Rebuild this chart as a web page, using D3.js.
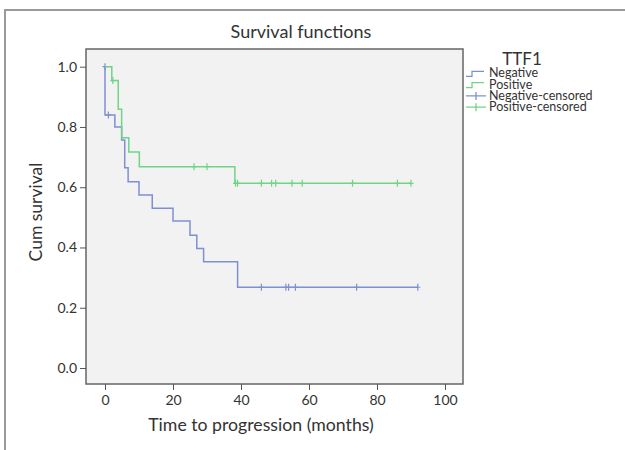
<!DOCTYPE html>
<html>
<head>
<meta charset="utf-8">
<title>Survival functions</title>
<script src="https://cdn.jsdelivr.net/npm/d3@7"></script>
<style>
  body { margin: 0; background: #fff; }
  text { font-family: Lato, "Open Sans", sans-serif; fill: #333; }
</style>
</head>
<body>
<script>
// ---- data ----
var negEventTimes = [0, 2.9, 4.9, 5.8, 6.8, 10, 13.9, 20, 25, 27, 29, 39];
var negSurv       = [0.84, 0.80, 0.757, 0.665, 0.618, 0.574, 0.530, 0.488, 0.441, 0.397, 0.353, 0.268];
var negCensored   = [0, 1, 46, 53.2, 54, 56, 74, 92];

var posEventTimes = [2, 3.9, 4.9, 7, 10.1, 38.2];
var posSurv       = [0.954, 0.859, 0.764, 0.717, 0.668, 0.613];
var posCensored   = [2.3, 26.2, 30, 38.4, 39, 46, 49, 50.2, 55, 58, 72.8, 86, 90];

var xTicks = [0, 20, 40, 60, 80, 100];
var yTicks = [0, 0.2, 0.4, 0.6, 0.8, 1.0];
var legendLabels = ["Negative", "Positive", "Negative-censored", "Positive-censored"];

var colors = {neg: "#7d91d2", pos: "#6ed585"};

var width = 625, height = 450;
var plot = {left: 86, top: 49, right: 463, bottom: 384};

var svg = d3.select("body").append("svg")
    .attr("width", width).attr("height", height);

// outer frame (only top & left visible)
svg.append("path")
    .attr("d", "M5,450 L5,10 L625,10")
    .attr("fill", "none").attr("stroke", "#9a9a9a").attr("stroke-width", 2);

// scales
var x = d3.scaleLinear().domain([0, 100]).range([105, 445]);
var y = d3.scaleLinear().domain([0, 1]).range([368, 66.7]);

// plot background
svg.append("rect")
    .attr("x", plot.left).attr("y", plot.top)
    .attr("width", plot.right - plot.left).attr("height", plot.bottom - plot.top)
    .attr("fill", "#f2f2f2").attr("stroke", "#666").attr("stroke-width", 1.5);

// axes
var yAxis = d3.axisLeft(y).tickValues(yTicks).tickFormat(d3.format(".1f")).tickSize(6).tickPadding(3);
var gy = svg.append("g").attr("transform", "translate(" + plot.left + ",0)").call(yAxis);
gy.select(".domain").remove();
var xAxis = d3.axisBottom(x).tickValues(xTicks).tickSize(6).tickPadding(5);
var gx = svg.append("g").attr("transform", "translate(0," + plot.bottom + ")").call(xAxis);
gx.select(".domain").remove();
svg.selectAll(".tick line").attr("stroke", "#555");
svg.selectAll(".tick text").style("font-size", "14px").attr("fill", "#333");

// helpers
function stepPoints(times, surv, end) {
  var pts = [[0, 1]];
  times.forEach(function(t, i){ pts.push([t, surv[i]]); });
  pts.push([end, surv[surv.length - 1]]);
  return pts;
}
function survAt(times, surv, t) {
  var s = 1;
  times.forEach(function(et, i){ if (et < t) s = surv[i]; });
  return s;
}
var line = d3.line().x(function(d){ return x(d[0]); }).y(function(d){ return y(d[1]); })
    .curve(d3.curveStepAfter);

var groups = [
  {times: negEventTimes, surv: negSurv, cens: negCensored, color: colors.neg},
  {times: posEventTimes, surv: posSurv, cens: posCensored, color: colors.pos}
];

groups.forEach(function(g){
  var end = d3.max(g.cens);
  svg.append("path")
      .datum(stepPoints(g.times, g.surv, end))
      .attr("d", line)
      .attr("fill", "none").attr("stroke", g.color).attr("stroke-width", 1.5);

  svg.append("g").selectAll("path")
      .data(g.cens)
      .enter().append("path")
      .attr("d", function(t){
        var cx = x(t), cy = y(survAt(g.times, g.surv, t));
        return "M" + (cx - 2.5) + "," + cy + "H" + (cx + 2.5) + "M" + cx + "," + (cy - 3.5) + "V" + (cy + 3.5);
      })
      .attr("stroke", g.color).attr("stroke-width", 1.2).attr("fill", "none");
});

// titles
svg.append("text").attr("x", 301).attr("y", 38).attr("text-anchor", "middle")
    .style("font-size", "18px").text("Survival functions");
svg.append("text").attr("transform", "translate(42,212) rotate(-90)").attr("text-anchor", "middle")
    .style("font-size", "17.5px").text("Cum survival");
svg.append("text").attr("x", 261).attr("y", 431).attr("text-anchor", "middle")
    .style("font-size", "17.7px").text("Time to progression (months)");

// legend
svg.append("text").attr("x", 522).attr("y", 64.5).attr("text-anchor", "middle")
    .style("font-size", "17px").text("TTF1");
var legColors = [colors.neg, colors.pos, colors.neg, colors.pos];
var leg = svg.append("g").selectAll("g").data(legendLabels).enter().append("g")
    .attr("transform", function(d, i){ return "translate(466," + (73.3 + i * 11.3) + ")"; });
leg.append("path")
    .attr("d", function(d, i){
      return i < 2 ? "M0,3H6V-2H18" : "M0,0H20M10,-4V4";
    })
    .attr("fill", "none").attr("stroke", function(d, i){ return legColors[i]; }).attr("stroke-width", 1.3);
leg.append("text").attr("x", 23).attr("y", 4).style("font-size", "12.5px").text(function(d){ return d; });
</script>
</body>
</html>
